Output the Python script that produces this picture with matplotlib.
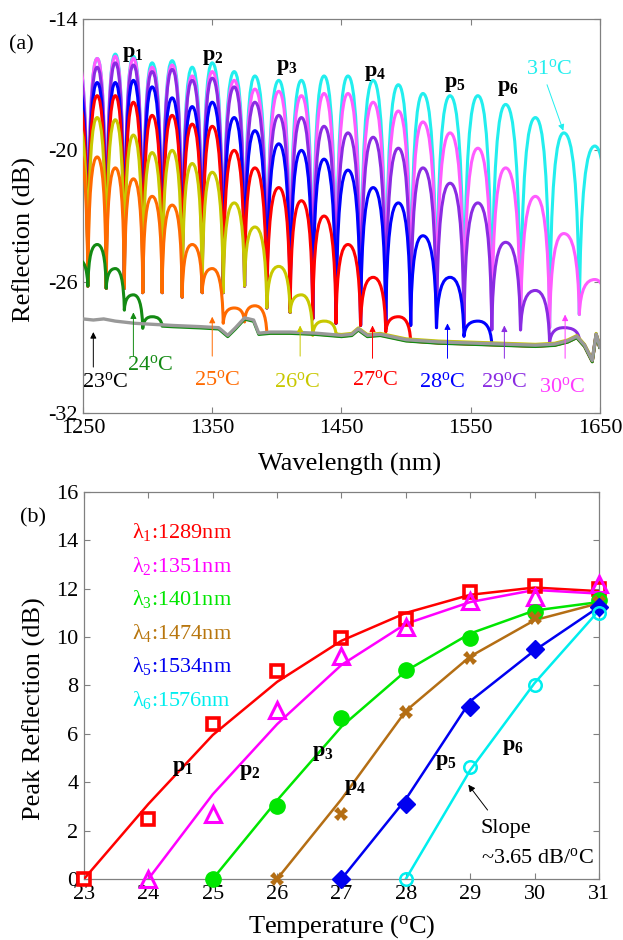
import numpy as np
import matplotlib.pyplot as plt
from matplotlib.path import Path
from matplotlib.patches import PathPatch

plt.rcParams['font.family'] = ['Liberation Serif', 'DejaVu Serif']
plt.rcParams['mathtext.fontset'] = 'custom'
plt.rcParams['mathtext.rm'] = 'Liberation Serif'
plt.rcParams['mathtext.it'] = 'Liberation Serif:italic'
plt.rcParams['mathtext.bf'] = 'Liberation Serif:bold'
plt.rcParams['mathtext.default'] = 'rm'
plt.rcParams['axes.unicode_minus'] = False

# ---- (a) reflection spectra ----
# peak wavelengths of the fringes (first one sits just left of the axis)
peak_nm = [1246.5, 1261, 1275, 1289, 1303.5, 1319, 1334.5, 1350, 1367, 1383,
           1401.5, 1419, 1436.5, 1455, 1474.5, 1494, 1513, 1534, 1555.5, 1577,
           1600, 1622, 1646]
# fringe minima of the strong spectra (one before the first peak, one after each peak)
trough_db = [-26.2, -26.2, -26.3, -26.3, -26.5, -26.5, -26.7, -26.5, -26.5, -26.2,
             -27.2, -27.4, -27.7, -27.9, -28.0, -28.0, -28.0, -28.1, -28.1, -28.2,
             -28.2, -28.1, -27.5, -27.5]
# noise floor (23 C trace)
floor_nm = [1250, 1258, 1266, 1275, 1290, 1305, 1320, 1340, 1355, 1362, 1368, 1375,
            1382, 1386, 1395, 1410, 1430, 1450, 1458, 1463, 1470, 1480, 1500, 1525,
            1550, 1575, 1600, 1615, 1625, 1632, 1638, 1644, 1647, 1650]
floor_db = [-27.7, -27.75, -27.7, -27.8, -27.9, -27.95, -28.0, -28.05, -28.1, -28.45,
            -28.1, -27.65, -27.75, -28.35, -28.3, -28.3, -28.35, -28.45, -28.4, -28.15,
            -28.45, -28.4, -28.65, -28.75, -28.8, -28.85, -28.9, -28.85, -28.7, -28.5,
            -28.9, -29.6, -28.4, -29.0]
# peak levels (dB) of each spectrum, only the fringes that rise above the floor
peaks_31 = [-16.0, -15.8, -15.6, -15.7, -16.0, -15.9, -16.2, -16.0, -16.4, -16.6,
            -16.8, -16.8, -16.6, -16.6, -16.8, -17.0, -17.4, -17.5, -17.5, -17.9,
            -18.5, -19.2, -19.8]
peaks_30 = [-16.0, -15.8, -15.7, -15.8, -16.2, -16.1, -16.6, -16.4, -16.8, -17.2,
            -17.3, -17.5, -17.4, -17.4, -17.8, -18.2, -18.7, -19.2, -19.9, -20.8,
            -22.1, -23.8, -25.9]
peaks_29 = [-16.4, -16.2, -16.0, -16.1, -16.4, -16.3, -16.8, -16.7, -17.1, -17.8,
            -18.4, -18.5, -18.9, -19.2, -19.4, -19.9, -20.8, -21.5, -22.4, -24.2,
            -26.4, -28.1]
peaks_28 = [-17.1, -16.9, -16.9, -16.8, -17.1, -17.6, -18.0, -17.8, -18.5, -19.1,
            -19.7, -20.0, -20.4, -20.9, -21.7, -22.4, -23.9, -25.8, -27.8]
peaks_27 = [-17.8, -17.5, -17.5, -17.8, -18.4, -18.4, -18.8, -18.9, -20.0, -20.8,
            -21.7, -22.3, -23.0, -24.3, -25.8, -27.6]
peaks_26 = [-18.8, -18.5, -18.6, -19.3, -20.1, -20.0, -20.6, -21.0, -22.4, -23.5,
            -25.3, -26.6, -27.8]
peaks_25 = [-20.0, -20.3, -20.8, -21.3, -22.1, -22.5, -24.3, -25.4, -27.2, -27.1]
peaks_24 = [-25.0, -24.3, -25.4, -26.6, -27.6]

spectra = [(31, peaks_31, '#22EEEE', 0.0), (30, peaks_30, '#FF5CFF', 0.0),
           (29, peaks_29, '#8A2BE2', 0.02), (28, peaks_28, '#0000FF', 0.0),
           (27, peaks_27, '#FF0000', -0.05), (26, peaks_26, '#C8C800', 0.04),
           (25, peaks_25, '#FF6A00', -0.04), (24, peaks_24, '#138A13', -0.06)]

# ---- (b) peak reflection vs temperature ----
temps = [23, 24, 25, 26, 27, 28, 29, 30, 31]
lam1_meas = [0, 2.5, 6.4, 8.6, 9.95, 10.75, 11.85, 12.1, 12.0]
lam1_fit = [0, 3.1, 5.95, 8.15, 9.85, 11.0, 11.75, 12.05, 11.9]
lam2_meas = [0, 2.7, 7.0, 9.2, 10.4, 11.5, 11.65, 12.2]
lam2_fit = [0, 3.5, 6.4, 8.85, 10.55, 11.45, 11.95, 11.8]
lam3_meas = [0, 3.0, 6.65, 8.65, 9.95, 11.05, 11.55]
lam3_fit = [0, 3.25, 6.3, 8.6, 10.15, 11.1, 11.45]
lam4_meas = [0, 2.7, 6.9, 9.15, 10.8, 11.45]
lam4_fit = [0, 3.3, 6.95, 9.2, 10.7, 11.4]
lam5_meas = [0, 3.1, 7.1, 9.5, 11.25]
lam5_fit = [0, 3.3, 7.35, 9.45, 11.25]
lam6_meas = [0, 4.65, 8.0, 11.0]
lam6_fit = [0, 4.5, 8.1, 11.1]
lam_nm = [1289, 1351, 1401, 1474, 1534, 1576]

grey = '0.5'


def style_axes(ax):
    for s in ax.spines.values():
        s.set_color(grey)
        s.set_linewidth(0.9)
    ax.tick_params(direction='in', top=True, right=True, length=4, width=0.8,
                   color=grey, labelcolor='k', labelsize=16, pad=4)


def spectrum_path(peaks, shift):
    pk = np.array(peak_nm)
    tx = np.concatenate([[pk[0] - (pk[1] - pk[0]) / 2], (pk[:-1] + pk[1:]) / 2,
                         [pk[-1] + (pk[-1] - pk[-2]) / 2]])
    m = len(peaks)

    def trough(k):
        fl = np.interp(tx[k], floor_nm, floor_db) + shift
        if k == 0:
            v = min(trough_db[0], peaks[0] - 0.7)
        elif k < m:
            v = min(trough_db[k], min(peaks[k - 1], peaks[k]) - 0.7)
        else:
            return fl
        return max(v, fl - 0.15)

    verts = [(tx[0], trough(0))]
    codes = [Path.MOVETO]
    for k in range(m):
        x0, y0 = verts[-1]
        x1, y1 = pk[k], peaks[k]
        x2, y2 = tx[k + 1], trough(k + 1)
        d = x1 - x0
        verts += [(x0 + 0.08 * d, y0 + 0.75 * (y1 - y0)), (x1 - 0.55 * d, y1), (x1, y1)]
        d = x2 - x1
        verts += [(x1 + 0.55 * d, y1), (x2 - 0.08 * d, y2 + 0.75 * (y1 - y2)), (x2, y2)]
        codes += [Path.CURVE4] * 6
    if m < len(peak_nm):
        for x, y in zip(floor_nm, floor_db):
            if x > tx[m]:
                verts.append((x, y + shift))
                codes.append(Path.LINETO)
    return Path(verts, codes)


fig = plt.figure(figsize=(6.23, 9.40), dpi=100)
ax1 = fig.add_axes([0.1332, 0.5606, 0.8299, 0.4191])
ax2 = fig.add_axes([0.1348, 0.0649, 0.8266, 0.4117])

# panel (a)
for z, (t, pks, col, sh) in enumerate(spectra):
    ax1.add_patch(PathPatch(spectrum_path(pks, sh), fill=False, edgecolor=col,
                            lw=2.2, joinstyle='round', zorder=2 + z))
ax1.plot(floor_nm, floor_db, color='#999999', lw=2.4, zorder=12)

ax1.set_xlim(1250, 1650)
ax1.set_ylim(-32, -14)
ax1.set_xticks([1250, 1350, 1450, 1550, 1650])
ax1.set_yticks([-32, -26, -20, -14])
style_axes(ax1)
ax1.set_xlabel('Wavelength (nm)', fontsize=19)
ax1.set_ylabel('Reflection (dB)', fontsize=19)
ax1.xaxis.set_label_coords(0.516, -0.1)
ax1.yaxis.set_label_coords(-0.09, 0.44)

deg = '$^\\mathrm{o}$C'
tlabels = [(23, 1267, -30.6, 1258, -29.9, -28.3, 'k'),
           (24, 1302, -29.8, 1289, -29.4, -27.4, '#138A13'),
           (25, 1354, -30.5, 1350, -29.4, -27.6, '#FF6A00'),
           (26, 1416, -30.6, 1418, -29.4, -28.0, '#C8C800'),
           (27, 1476, -30.5, 1474, -29.5, -28.0, '#FF0000'),
           (28, 1528, -30.6, 1532, -29.5, -27.9, '#0000FF'),
           (29, 1576, -30.6, 1576, -29.5, -28.0, '#8A2BE2'),
           (30, 1621, -30.8, 1623, -29.5, -27.5, '#FF3CFF')]
for t, lx, ly, axx, ay0, ay1, col in tlabels:
    ax1.text(lx, ly, '%d' % t + deg, color=col, fontsize=16, ha='center',
             va='center', zorder=20)
    ax1.annotate('', xy=(axx, ay1), xytext=(axx, ay0),
                 arrowprops=dict(arrowstyle='-|>', color=col, lw=0.7,
                                 mutation_scale=9, shrinkA=0, shrinkB=0),
                 zorder=20)
ax1.text(1610.5, -16.3, '31' + deg, color='#22EEEE', fontsize=16, ha='center',
         va='center')
ax1.annotate('', xy=(1621.6, -19.1), xytext=(1609, -17.0),
             arrowprops=dict(arrowstyle='-|>', color='#22EEEE', lw=0.7,
                             mutation_scale=9, shrinkA=0, shrinkB=0))
plab = [(1288.7, -15.6), (1350.6, -15.75), (1407.8, -16.2), (1476, -16.45),
        (1537.8, -16.95), (1578.8, -17.15)]
for i, (px, py) in enumerate(plab):
    ax1.text(px, py, 'p$_\\mathbf{%d}$' % (i + 1), fontsize=16, fontweight='bold',
             ha='center', va='center', zorder=25)

# panel (b)
series = [(lam1_meas, lam1_fit, '#FF0000', 's', dict(ms=9, mfc='none', mew=2.6)),
          (lam2_meas, lam2_fit, '#FF00FF', '^', dict(ms=11, mfc='none', mew=2.2)),
          (lam3_meas, lam3_fit, '#00E600', 'o', dict(ms=11)),
          (lam4_meas, lam4_fit, '#B46E14', 'X', dict(ms=10, mew=0)),
          (lam5_meas, lam5_fit, '#0000F0', 'D', dict(ms=9)),
          (lam6_meas, lam6_fit, '#00EEEE', 'o', dict(ms=9, mfc='none', mew=1.8))]
for i, (meas, fit, col, mk, kw) in enumerate(series):
    tt = temps[len(temps) - len(meas):]
    ax2.plot(tt, fit, color=col, lw=1.8, zorder=3)
    ax2.plot(tt, meas, ls='none', marker=mk, color=col, mec=col, zorder=4, clip_on=False,
             **kw)
    ax2.text(23.75, 14.35 - i * 1.39, '\u03bb$_%d$:%dnm' % (i + 1, lam_nm[i]),
             color=col if i != 3 else '#B8760E', fontsize=16, ha='left', va='center')

ax2.set_xlim(23, 31)
ax2.set_ylim(0, 16)
ax2.set_xticks(temps)
ax2.set_yticks(range(0, 17, 2))
style_axes(ax2)
ax2.set_xlabel('Temperature (' + deg + ')', fontsize=19)
ax2.set_ylabel('Peak Reflection (dB)', fontsize=19)
ax2.xaxis.set_label_coords(0.5, -0.088)
ax2.yaxis.set_label_coords(-0.074, 0.44)

plab2 = [(24.53, 4.6), (25.57, 4.43), (26.71, 5.2), (27.21, 3.8), (28.62, 4.84),
         (29.66, 5.46)]
for i, (px, py) in enumerate(plab2):
    ax2.text(px, py, 'p$_\\mathbf{%d}$' % (i + 1), fontsize=16, fontweight='bold',
             ha='center', va='center')
ax2.text(29.55, 2.1, 'Slope', fontsize=16, ha='center', va='center')
ax2.text(30.05, 0.85, '~3.65 dB/' + deg, fontsize=16, ha='center', va='center')
ax2.annotate('', xy=(28.97, 3.9), xytext=(29.27, 2.85),
             arrowprops=dict(arrowstyle='-|>', color='k', lw=0.7, mutation_scale=10,
                             shrinkA=0, shrinkB=0))

fig.text(0.035, 0.952, '(a)', fontsize=16, ha='center', va='center')
fig.text(0.053, 0.449, '(b)', fontsize=16, ha='center', va='center')

fig.savefig('out.png', dpi=100)
